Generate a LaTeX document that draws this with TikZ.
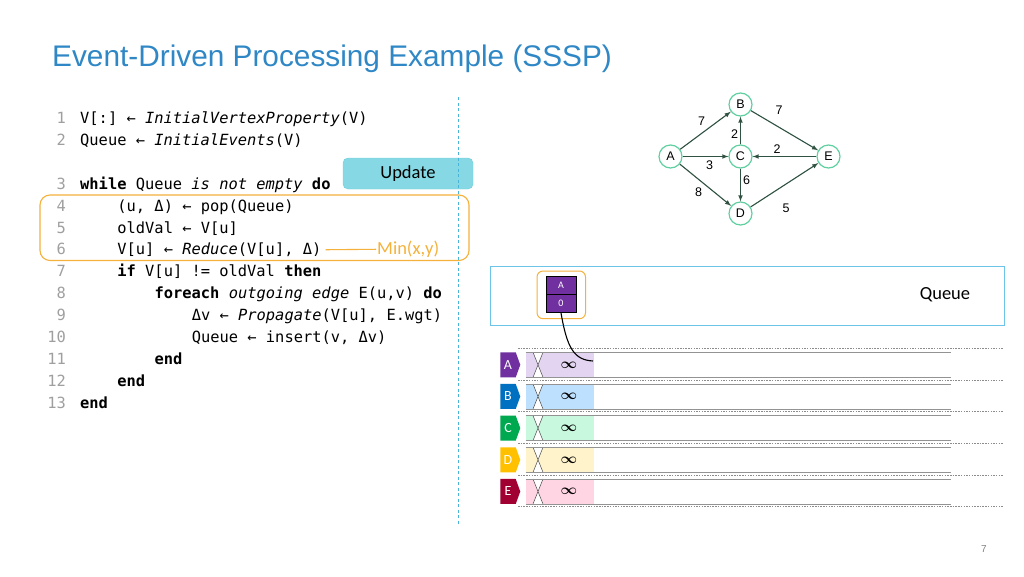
\documentclass[tikz,border=0pt]{standalone}
\usepackage{fontspec}
\setmainfont{Carlito}
\setmonofont{DejaVu Sans Mono}
\newfontfamily\arialfont{Liberation Sans}
\usetikzlibrary{arrows}
\usetikzlibrary{shapes.symbols}

\definecolor{titleblue}{HTML}{2F87C5}
\definecolor{updfill}{HTML}{86D9E4}
\definecolor{updline}{HTML}{6CCDDA}
\definecolor{hlorange}{HTML}{F4B13C}
\definecolor{sepblue}{HTML}{4AB4D8}
\definecolor{qblue}{HTML}{6CC4E8}
\definecolor{vtxgreen}{HTML}{5FD0A0}
\definecolor{edgegreen}{HTML}{2F5242}
\definecolor{tokpurple}{HTML}{7030A0}
\definecolor{tagA}{HTML}{7030A0}
\definecolor{tagB}{HTML}{0070C0}
\definecolor{tagC}{HTML}{00A850}
\definecolor{tagD}{HTML}{FFC000}
\definecolor{tagE}{HTML}{A00032}
\definecolor{cellA}{HTML}{E3D5F2}
\definecolor{cellB}{HTML}{BEE0FF}
\definecolor{cellC}{HTML}{C8F8DE}
\definecolor{cellD}{HTML}{FFF3CC}
\definecolor{cellE}{HTML}{FFD5E3}

\tikzset{
    code/.style={anchor=base west, inner sep=0pt, font=\ttfamily\fontsize{15.4}{18}\selectfont},
    lnum/.style={anchor=base east, inner sep=0pt, text=gray!75, font=\ttfamily\fontsize{15.4}{18}\selectfont},
    vtx/.style={draw=vtxgreen, line width=1.2pt, circle, minimum size=23pt, inner sep=0pt, fill=white, font=\arialfont\fontsize{12.5}{14}\selectfont},
    gedge/.style={->, >=latex, draw=edgegreen, fill=edgegreen, line width=1.1pt},
    wlbl/.style={inner sep=0pt, font=\arialfont\fontsize{12.5}{14}\selectfont, text=black},
    tagbox/.style={signal, signal to=east, signal pointer angle=140, minimum width=20pt, minimum height=25pt, inner sep=0pt, text=white, font=\fontsize{14}{16}\selectfont},
    cellbox/.style={anchor=north west, minimum width=68pt, minimum height=25pt, inner sep=0pt},
    tok/.style={draw=black, fill=tokpurple, text=white, minimum width=30pt, minimum height=18.3pt, inner sep=0pt, font=\fontsize{10}{12}\selectfont},
    rowdot/.style={draw=gray!90, line width=0.6pt, dash pattern=on 1.5pt off 1.2pt},
    rowline/.style={draw=gray!85, line width=0.9pt},
    xline/.style={draw=gray!60!black, line width=0.5pt}
}

\begin{document}
\begin{tikzpicture}[x=1pt, y=-1pt]
    \useasboundingbox (0,0) rectangle (1024,576);

    \node[anchor=base west, inner sep=0pt, text=titleblue, font=\arialfont\fontsize{29.8}{32}\selectfont] (title) at (52,66) {Event-Driven Processing Example (SSSP)};

    \foreach \n/\y in {1/123.5, 2/145.5, 3/189.5, 4/211.5, 5/233.5, 6/254.5, 7/276.5, 8/298.5, 9/320.5, 10/342.5, 11/364.5, 12/386.5, 13/408.5}
        \node[lnum] (ln\n) at (66,\y) {\n};

    \node[code] (l1) at (80,123.5) {V[:] ← \textit{InitialVertexProperty}(V)};
    \node[code] (l2) at (80,145.5) {Queue ← \textit{InitialEvents}(V)};
    \node[code] (l3) at (80,189.5) {\textbf{while} Queue \textit{is not empty} \textbf{do}};
    \node[code] (l4) at (117.2,211.5) {(u, Δ) ← pop(Queue)};
    \node[code] (l5) at (117.2,233.5) {oldVal ← V[u]};
    \node[code] (l6) at (117.2,254.5) {V[u] ← \textit{Reduce}(V[u], Δ)};
    \node[code] (l7) at (117.2,276.5) {\textbf{if} V[u] != oldVal \textbf{then}};
    \node[code] (l8) at (154.4,298.5) {\textbf{foreach} \textit{outgoing edge} E(u,v) \textbf{do}};
    \node[code] (l9) at (191.6,320.5) {Δv ← \textit{Propagate}(V[u], E.wgt)};
    \node[code] (l10) at (191.6,342.5) {Queue ← insert(v, Δv)};
    \node[code] (l11) at (154.4,364.5) {\textbf{end}};
    \node[code] (l12) at (117.2,386.5) {\textbf{end}};
    \node[code] (l13) at (80,408.5) {\textbf{end}};

    \draw[hlorange, line width=1.1pt, rounded corners=10pt] (40,195) rectangle (469,260.5);
    \node[draw=updline, fill=updfill, rounded corners=5pt, minimum width=130pt, minimum height=31pt, font=\fontsize{18.5}{20}\selectfont] (upd) at (408,173.5) {Update};
    \node[text=hlorange, inner sep=1pt, anchor=west, font=\fontsize{18.5}{20}\selectfont] (minxy) at (376,249) {Min(x,y)};
    \draw[hlorange, line width=1.1pt] ([xshift=4pt]l6.east) -- (minxy);

    \draw[sepblue, line width=1pt, dash pattern=on 3pt off 2.5pt] (458,97) -- (458,525);

    \node[vtx] (A) at (670.5,156.5) {A};
    \node[vtx] (B) at (740.5,104.5) {B};
    \node[vtx] (C) at (740.5,156.5) {C};
    \node[vtx] (D) at (740.5,213.5) {D};
    \node[vtx] (E) at (828.5,156.5) {E};

    \draw[gedge] (A) -- (B) node[wlbl, midway, shift={(-4,-9.5)}] (wab) {7};
    \draw[gedge] (B) -- (E) node[wlbl, midway, shift={(-5.5,-20.5)}] (wbe) {7};
    \draw[gedge] (C) -- (B) node[wlbl, midway, shift={(-6,3.5)}] (wcb) {2};
    \draw[gedge] (E) -- (C) node[wlbl, midway, shift={(-7.5,-7)}] (wec) {2};
    \draw[gedge] (A) -- (C) node[wlbl, midway, shift={(4,9)}] (wac) {3};
    \draw[gedge] (C) -- (D) node[wlbl, midway, shift={(6,-5)}] (wcd) {6};
    \draw[gedge] (A) -- (D) node[wlbl, midway, shift={(-7,7)}] (wad) {8};
    \draw[gedge] (D) -- (E) node[wlbl, midway, shift={(1.5,23)}] (wde) {5};

    \node[draw=qblue, line width=1.3pt, anchor=north west, minimum width=514pt, minimum height=59pt, inner sep=0pt] (qbox) at (490,266) {};
    \node[font=\fontsize{18.5}{20}\selectfont] (qlabel) at (945,295) {Queue};
    \node[tok] (tokA) at (561,285.2) {A};
    \node[tok] (tokV) at (561,303.5) {0};
    \draw[hlorange, line width=1pt, rounded corners=6pt] (537,271) rectangle (585.5,318.7);

    \foreach \n/\dc/\lc/\i in {A/tagA/cellA/0, B/tagB/cellB/1, C/tagC/cellC/2, D/tagD/cellD/3, E/tagE/cellE/4} {
        \pgfmathsetmacro{\rt}{352.3+31.67*\i}
        \pgfmathsetmacro{\rb}{\rt+25}
        \pgfmathsetmacro{\rd}{\rt-4}
        \draw[rowdot] (518,\rd) -- (1004,\rd);
        \node[cellbox, fill=\lc] (cell\n) at (525.7,\rt) {};
        \fill[white] (533,\rt) -- (543,\rt) -- (538,\rt+12.5) -- cycle;
        \fill[white] (533,\rb) -- (543,\rb) -- (538,\rb-12.5) -- cycle;
        \draw[xline] (533,\rt) -- (543,\rb) (543,\rt) -- (533,\rb);
        \draw[rowline] (525.7,\rt) -- (951,\rt) (525.7,\rb) -- (951,\rb);
        \node[tagbox, fill=\dc] (tag\n) at (508,\rt+12.5) {\n};
        \node[font=\boldmath\fontsize{14}{16}\selectfont, inner sep=0pt] (inf\n) at (569,\rt+12.5) {$\infty$};
    }
    \draw[rowdot] (518,506.7) -- (1004,506.7);

    \coordinate (hook) at (593,361);
    \draw[line width=1.1pt] (tokV.south) .. controls (567,348) and (574,360) .. (hook);

    \node[text=gray, font=\arialfont\fontsize{10}{12}\selectfont] (pg) at (984,549) {7};
\end{tikzpicture}
\end{document}
